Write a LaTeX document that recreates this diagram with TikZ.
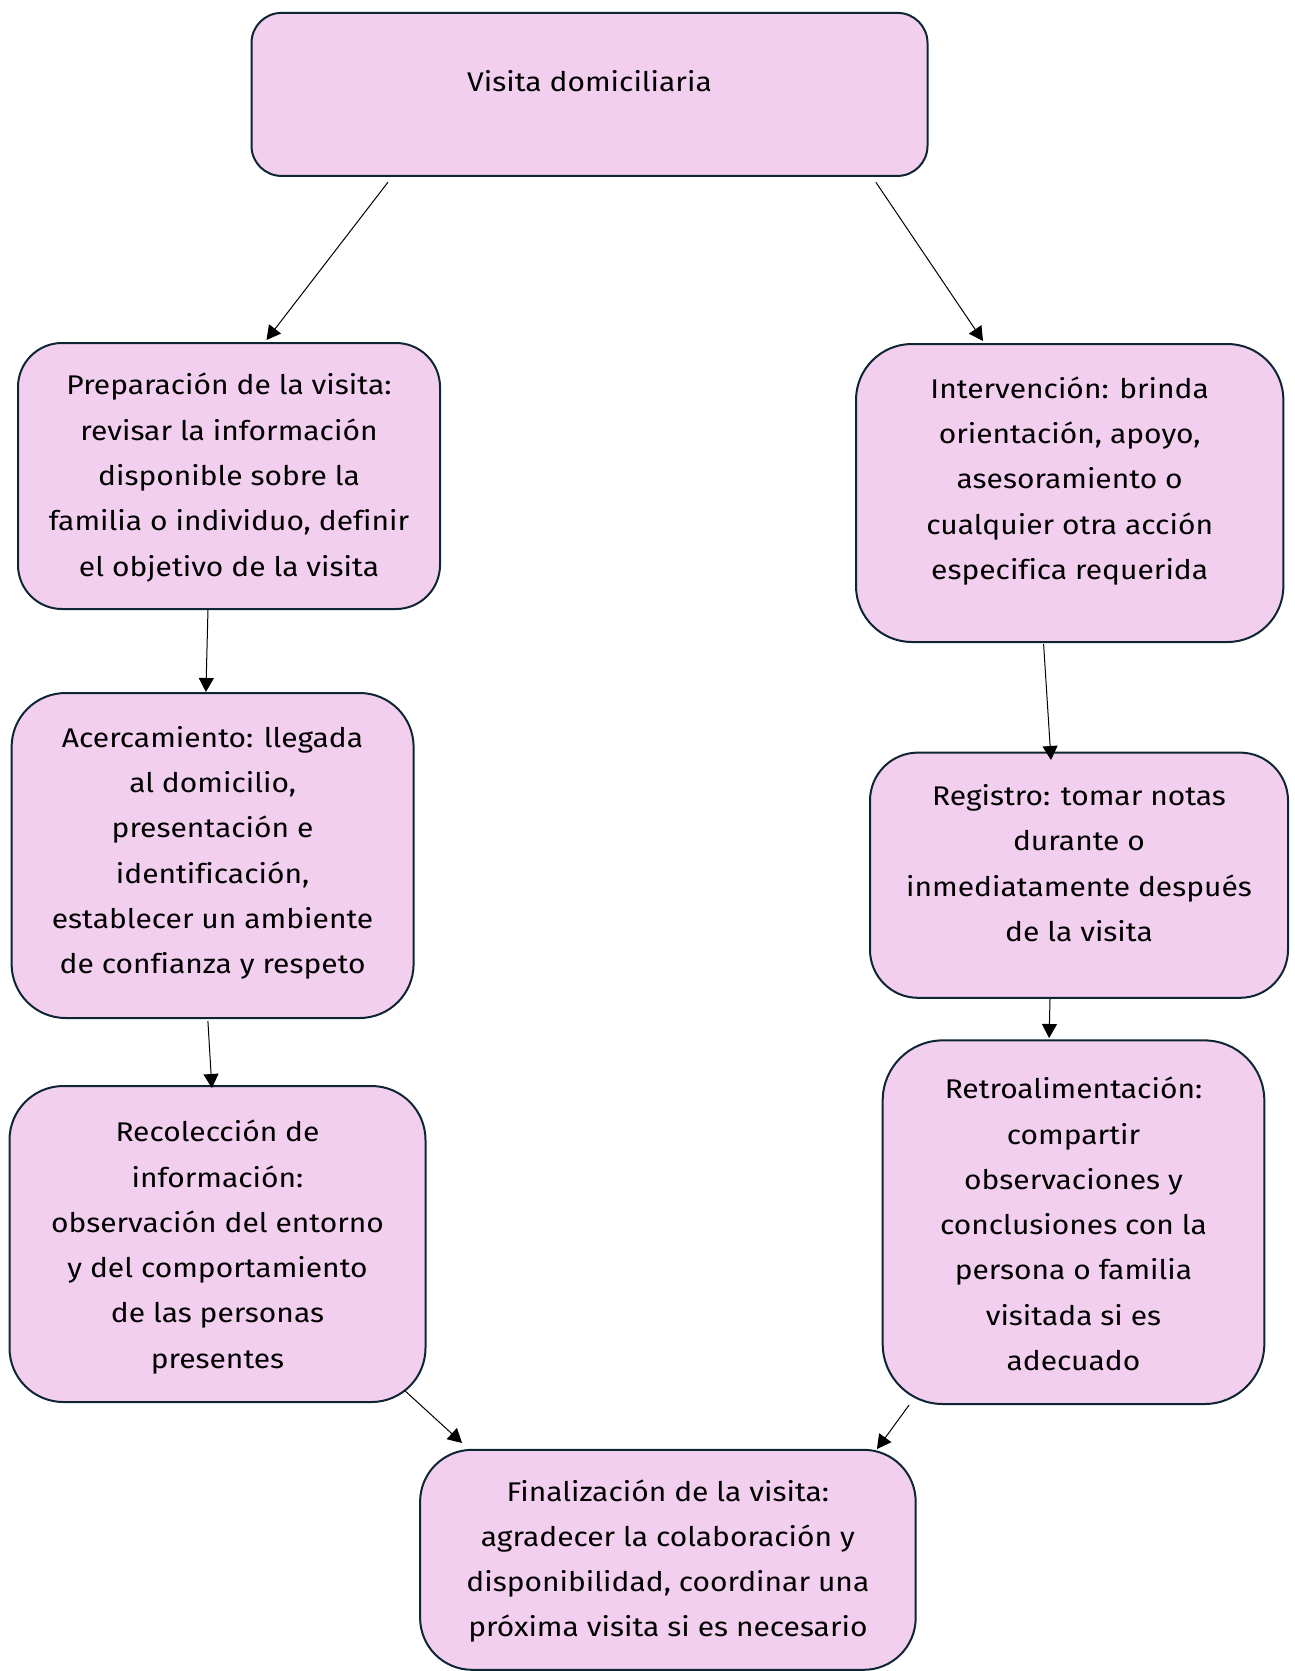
\documentclass[tikz,border=0pt]{standalone}
\usepackage{fontspec}
\setmainfont{Fira Sans}[FakeStretch=1.11, Ligatures={NoCommon}]
\usetikzlibrary{arrows.meta}
\definecolor{boxfill}{RGB}{242,207,238}
\definecolor{boxline}{RGB}{14,37,52}
\tikzset{
  box/.style={draw=boxline, fill=boxfill, line width=1pt, inner sep=0pt, outer sep=0pt},
  txt/.style={align=center, inner sep=0pt, font=\fontsize{13.5pt}{22.65pt}\selectfont, text=black},
  arr/.style={line width=0.5pt, -{Triangle[length=7pt,width=7.5pt]}, shorten >=0pt}
}
\begin{document}
\begin{tikzpicture}[x=0.5pt,y=-0.5pt]
\useasboundingbox (0,0) rectangle (1295,1671);
% boxes
\node[box, minimum width=338pt, minimum height=81.5pt, rounded corners=15pt] (top) at (589.5,94.4) {};
\node[box, minimum width=211pt, minimum height=133pt, rounded corners=22pt] (prep) at (229,476) {};
\node[box, minimum width=201pt, minimum height=162.5pt, rounded corners=27pt] (acer) at (212.6,855.5) {};
\node[box, minimum width=208pt, minimum height=158pt, rounded corners=27pt] (reco) at (217.5,1244) {};
\node[box, minimum width=213.7pt, minimum height=149pt, rounded corners=28pt] (inte) at (1069.7,493) {};
\node[box, minimum width=209pt, minimum height=122.6pt, rounded corners=24pt] (regi) at (1079,875.2) {};
\node[box, minimum width=190.8pt, minimum height=181.8pt, rounded corners=30pt] (retr) at (1073.5,1222.2) {};
\node[box, minimum width=247.8pt, minimum height=110pt, rounded corners=26pt] (fina) at (667.9,1559.8) {};
% texts
\node[txt] (top-t) at (589.5,81) {Visita domiciliaria};
\node[txt] (prep-t) at (229,477.5) {Preparación de la visita:\\revisar la información\\disponible sobre la\\familia o individuo, definir\\el objetivo de la visita};
\node[txt] (acer-t) at (212.6,852.7) {Acercamiento: llegada\\al domicilio,\\presentación e\\identificación,\\establecer un ambiente\\de confianza y respeto};
\node[txt] (reco-t) at (217.5,1247) {Recolección de\\información:\\observación del entorno\\y del comportamiento\\de las personas\\presentes};
\node[txt] (inte-t) at (1069.7,481) {Intervención: brinda\\orientación, apoyo,\\asesoramiento o\\cualquier otra acción\\especifica requerida};
\node[txt] (regi-t) at (1079,863) {Registro: tomar notas\\durante o\\inmediatamente después\\de la visita};
\node[txt] (retr-t) at (1073.5,1224) {Retroalimentación:\\compartir\\observaciones y\\conclusiones con la\\persona o familia\\visitada si es\\adecuado};
\node[txt] (fina-t) at (667.9,1561) {Finalización de la visita:\\agradecer la colaboración y\\disponibilidad, coordinar una\\próxima visita si es necesario};
% arrows
\draw[arr] ([xshift=68.2pt,yshift=-3.2pt]top.south west) -- ([xshift=124.25pt,yshift=1.5pt]prep.north west);
\draw[arr] ([xshift=312.2pt,yshift=-3.2pt]top.south west) -- ([xshift=63.5pt,yshift=1.5pt]inte.north west);
\draw[arr] ([xshift=95pt]prep.south west) -- ([xshift=97.15pt,yshift=0.5pt]acer.north west);
\draw[arr] ([xshift=98.15pt,yshift=-1.5pt]acer.south west) -- ([xshift=101.2pt,yshift=-1pt]reco.north west);
\draw[arr] ([xshift=93.8pt,yshift=-1pt]inte.south west) -- ([xshift=90.5pt,yshift=-3.7pt]regi.north west);
\draw[arr] ([xshift=90pt,yshift=-0.6pt]regi.south west) -- ([xshift=83.2pt,yshift=1.2pt]retr.north west);
\draw[arr] ([xshift=-10.15pt,yshift=5.5pt]reco.south east) -- ([xshift=21pt,yshift=3.4pt]fina.north west);
\draw[arr] ([xshift=13.2pt,yshift=-0.5pt]retr.south west) -- ([xshift=-19.35pt,yshift=0.4pt]fina.north east);
\end{tikzpicture}
\end{document}
